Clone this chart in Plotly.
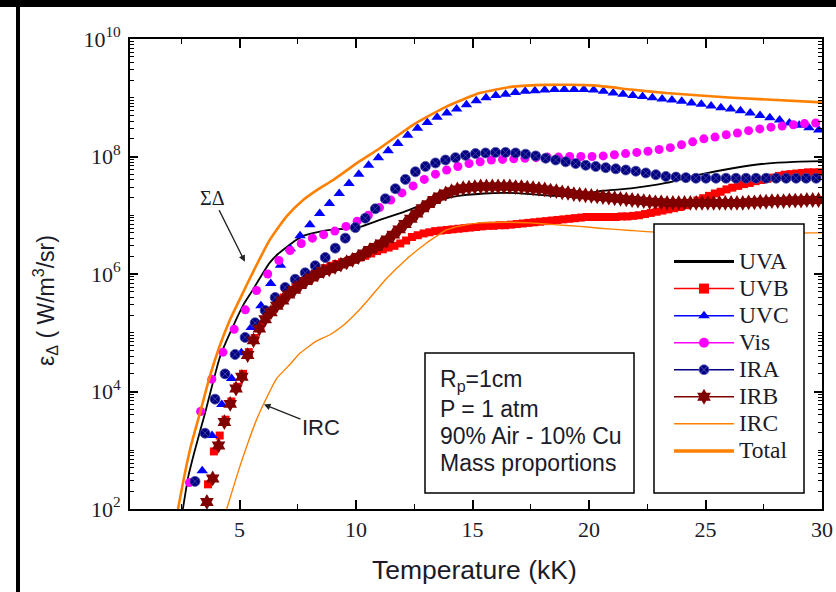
import plotly.graph_objects as go

# ---------------- data (y values given as log10 exponents) ----------------
# continuous curves
UVA_T = [2.57, 2.8, 3.05, 3.52, 4.17, 4.85, 5.2, 5.57, 5.95, 6.29, 6.65, 7.03, 7.4, 7.74, 8.3, 8.89,
         9.5, 10.15, 11.02, 12.0, 12.88, 14.25, 15.5, 16.5, 17.5, 18.5, 19.4, 20.45, 21.88, 23.31,
         24.74, 26.17, 27.6, 28.8, 30.0]
UVA_LOG10 = [2.0, 2.55, 2.95, 3.63, 4.6, 5.22, 5.5, 5.73, 5.98, 6.19, 6.34, 6.46, 6.57, 6.65, 6.71, 6.75,
             6.77, 6.8, 6.92, 7.05, 7.18, 7.32, 7.37, 7.38, 7.36, 7.33, 7.33, 7.41, 7.46, 7.55,
             7.69, 7.8, 7.88, 7.91, 7.92]

TOTAL_T = [2.36, 2.6, 2.9, 3.3, 3.7, 4.1, 4.59, 5.0, 5.6, 6.3, 7.02, 7.73, 8.4, 9.02, 10.16, 11.02, 12.45,
           13.88, 15.31, 16.74, 18.17, 20.17, 21.8, 23.31, 26.17, 29.6, 30.0]
TOTAL_LOG10 = [2.0, 2.5, 3.05, 3.63, 4.22, 4.72, 5.22, 5.56, 6.05, 6.58, 6.98, 7.26, 7.45, 7.6, 7.92, 8.14, 8.54,
               8.85, 9.08, 9.19, 9.22, 9.21, 9.14, 9.08, 9.0, 8.93, 8.92]

IRC_T = [4.45, 5.02, 5.73, 6.05, 6.59, 7.16, 7.59, 8.31, 8.9, 9.5, 10.0, 10.5, 11.3, 12.13, 13.0,
         13.88, 14.5, 15.31, 16.5, 17.45, 18.5, 19.6, 20.45, 21.8, 23.31, 25.0, 27.0, 29.6, 30.0]
IRC_LOG10 = [2.0, 2.73, 3.52, 3.8, 4.22, 4.46, 4.65, 4.86, 4.97, 5.14, 5.33, 5.55, 5.92, 6.24, 6.52,
             6.75, 6.82, 6.87, 6.88, 6.87, 6.84, 6.81, 6.78, 6.74, 6.70, 6.69, 6.69, 6.70, 6.70]

# sampled (marker) series: first temperature, temperature step, values
UVB_T0, UVB_DT = 3.65, 0.25
UVB_LOG10 = [2.42, 2.98, 3.25, 3.52, 3.83, 4.08, 4.3, 4.67, 4.91, 5.1,
             5.26, 5.38, 5.49, 5.6, 5.7, 5.78, 5.86, 5.93, 5.99, 6.05,
             6.1, 6.14, 6.17, 6.2, 6.22, 6.25, 6.28, 6.31, 6.35, 6.39,
             6.42, 6.45, 6.48, 6.52, 6.57, 6.63, 6.66, 6.69, 6.71, 6.73,
             6.74, 6.75, 6.76, 6.77, 6.78, 6.79, 6.8, 6.81, 6.82, 6.82,
             6.83, 6.83, 6.84, 6.85, 6.86, 6.87, 6.88, 6.89, 6.9, 6.91,
             6.92, 6.93, 6.94, 6.95, 6.96, 6.97, 6.97, 6.97, 6.97, 6.97,
             6.97, 6.98, 6.98, 6.99, 7.0, 7.02, 7.04, 7.06, 7.08, 7.1,
             7.12, 7.14, 7.17, 7.21, 7.25, 7.29, 7.33, 7.37, 7.4, 7.44,
             7.47, 7.5, 7.53, 7.55, 7.58, 7.6, 7.62, 7.64, 7.67, 7.69,
             7.7, 7.71, 7.72, 7.73, 7.73, 7.73]

UVC_T0, UVC_DT = 3.4, 0.42
UVC_LOG10 = [2.65, 3.25, 3.78, 4.22, 4.66, 5.09, 5.46, 5.84, 6.15, 6.43,
             6.65, 6.84, 7.03, 7.2, 7.37, 7.54, 7.7, 7.85, 7.98, 8.1,
             8.22, 8.36, 8.48, 8.58, 8.67, 8.74, 8.81, 8.88, 8.95, 9.0,
             9.04, 9.06, 9.09, 9.11, 9.12, 9.13, 9.14, 9.14, 9.14, 9.14,
             9.13, 9.11, 9.08, 9.06, 9.04, 9.02, 9.0, 8.98, 8.96, 8.94,
             8.91, 8.89, 8.86, 8.83, 8.81, 8.78, 8.74, 8.7, 8.66, 8.62,
             8.57, 8.53, 8.49, 8.45]

VIS_T0, VIS_DT = 2.85, 0.48
VIS_LOG10 = [2.45, 3.66, 4.21, 4.67, 5.06, 5.39, 5.72, 6.0, 6.23, 6.4,
             6.52, 6.61, 6.67, 6.73, 6.81, 6.9, 7.0, 7.13, 7.26, 7.38,
             7.5, 7.61, 7.7, 7.77, 7.83, 7.88, 7.91, 7.94, 7.95, 7.96,
             7.97, 7.98, 7.99, 7.99, 8.0, 8.0, 8.0, 8.01, 8.03, 8.05,
             8.07, 8.09, 8.12, 8.15, 8.2, 8.25, 8.3, 8.33, 8.37, 8.4,
             8.44, 8.47, 8.5, 8.52, 8.54, 8.56, 8.57]

IRA_T0, IRA_DT = 3.09, 0.43
IRA_LOG10 = [2.47, 3.29, 3.87, 4.3, 4.63, 4.92, 5.17, 5.38, 5.6, 5.77,
             5.91, 6.02, 6.14, 6.28, 6.44, 6.61, 6.79, 6.95, 7.11, 7.28,
             7.45, 7.61, 7.74, 7.83, 7.89, 7.94, 7.98, 8.02, 8.05, 8.06,
             8.07, 8.07, 8.06, 8.04, 8.01, 7.97, 7.94, 7.91, 7.88, 7.85,
             7.83, 7.81, 7.79, 7.77, 7.75, 7.72, 7.69, 7.66, 7.65, 7.64,
             7.63, 7.63, 7.63, 7.63, 7.63, 7.63, 7.63, 7.63, 7.63, 7.63,
             7.63, 7.63, 7.63]

IRB_T0, IRB_DT = 3.6, 0.25
IRB_LOG10 = [2.12, 2.52, 3.08, 3.48, 3.79, 4.05, 4.25, 4.62, 4.87, 5.07,
             5.23, 5.35, 5.46, 5.55, 5.65, 5.73, 5.81, 5.88, 5.94, 6.0,
             6.05, 6.08, 6.12, 6.16, 6.2, 6.24, 6.29, 6.35, 6.41, 6.46,
             6.52, 6.59, 6.67, 6.76, 6.85, 6.94, 7.03, 7.12, 7.19, 7.26,
             7.32, 7.37, 7.41, 7.44, 7.46, 7.47, 7.48, 7.49, 7.49, 7.49,
             7.49, 7.49, 7.49, 7.48, 7.48, 7.47, 7.46, 7.45, 7.44, 7.42,
             7.41, 7.39, 7.38, 7.36, 7.35, 7.34, 7.33, 7.32, 7.31, 7.3,
             7.29, 7.28, 7.27, 7.26, 7.25, 7.24, 7.23, 7.22, 7.22, 7.21,
             7.21, 7.21, 7.21, 7.21, 7.21, 7.21, 7.21, 7.21, 7.21, 7.21,
             7.21, 7.21, 7.21, 7.22, 7.22, 7.23, 7.23, 7.24, 7.24, 7.24,
             7.25, 7.25, 7.25, 7.26, 7.26, 7.26]

X_TICKS = [5, 10, 15, 20, 25, 30]
X_MINOR = [2.5, 7.5, 12.5, 17.5, 22.5, 27.5]
Y_EXP = [2, 4, 6, 8, 10]
Y_TICKTEXT = ["10<sup>%d</sup>" % e for e in Y_EXP]

LEGEND_NAMES = ["UVA", "UVB", "UVC", "Vis", "IRA", "IRB", "IRC", "Total"]
BOX_LINES = ["R<sub>p</sub>=1cm", "P = 1 atm", "90% Air - 10% Cu", "Mass proportions"]


def temps(t0, dt, vals):
    return [round(t0 + dt * i, 3) for i in range(len(vals))]


def lin(vals):
    return [10 ** v for v in vals]


# ---------------- styles ----------------
BLACK = "#000000"
RED = "#ff0000"
BLUE = "#0000ff"
MAGENTA = "#ff00ff"
NAVY = "#000080"
MAROON = "#800000"
ORANGE = "#ff8000"
SERIF = "Liberation Serif, Times New Roman, serif"
SANS = "Liberation Sans, Arial, sans-serif"
TXT = "#1b1b2a"

W, H = 836, 592
ML, MR, MT, MB = 130, 14, 39, 83
PW, PH = W - ML - MR, H - MT - MB


def px2x(px):
    return (px - ML) / PW


def py2y(py):
    return (H - MB - py) / PH


fig = go.Figure()

fig.add_trace(go.Scatter(x=UVA_T, y=lin(UVA_LOG10), mode="lines", line=dict(color=BLACK, width=1.8, shape="spline", smoothing=0.5), showlegend=False))
fig.add_trace(go.Scatter(x=temps(UVB_T0, UVB_DT, UVB_LOG10), y=lin(UVB_LOG10), mode="markers",
                         marker=dict(symbol="square", size=8, color=RED, line=dict(width=0)), showlegend=False))
fig.add_trace(go.Scatter(x=temps(UVC_T0, UVC_DT, UVC_LOG10), y=lin(UVC_LOG10), mode="markers",
                         marker=dict(symbol="triangle-up", size=10, color=BLUE, line=dict(width=0)), showlegend=False))
fig.add_trace(go.Scatter(x=temps(VIS_T0, VIS_DT, VIS_LOG10), y=lin(VIS_LOG10), mode="markers",
                         marker=dict(symbol="circle", size=9, color=MAGENTA, line=dict(width=0)), showlegend=False))
fig.add_trace(go.Scatter(x=temps(IRA_T0, IRA_DT, IRA_LOG10), y=lin(IRA_LOG10), mode="markers",
                         marker=dict(symbol="circle-x", size=10, color=NAVY, line=dict(width=0.8, color="#4a4aa8")), showlegend=False))
fig.add_trace(go.Scatter(x=temps(IRB_T0, IRB_DT, IRB_LOG10), y=lin(IRB_LOG10), mode="markers",
                         marker=dict(symbol="hexagram", size=12, color=MAROON, line=dict(width=0)), showlegend=False))
fig.add_trace(go.Scatter(x=IRC_T, y=lin(IRC_LOG10), mode="lines", line=dict(color=ORANGE, width=1.4, shape="spline", smoothing=0.4), showlegend=False))
fig.add_trace(go.Scatter(x=TOTAL_T, y=lin(TOTAL_LOG10), mode="lines", line=dict(color=ORANGE, width=2.6, shape="spline", smoothing=0.5), showlegend=False))

# legend entries
leg_styles = [
    dict(mode="lines", line=dict(color=BLACK, width=3)),
    dict(mode="lines+markers", line=dict(color=RED, width=1.5), marker=dict(symbol="square", size=10, color=RED)),
    dict(mode="lines+markers", line=dict(color=BLUE, width=1.5), marker=dict(symbol="triangle-up", size=10, color=BLUE)),
    dict(mode="lines+markers", line=dict(color=MAGENTA, width=1.5), marker=dict(symbol="circle", size=10, color=MAGENTA)),
    dict(mode="lines+markers", line=dict(color=NAVY, width=1.5), marker=dict(symbol="circle-x", size=10, color=NAVY, line=dict(width=0.8, color="#6a6ac8"))),
    dict(mode="lines+markers", line=dict(color=MAROON, width=1.5), marker=dict(symbol="hexagram", size=12, color=MAROON)),
    dict(mode="lines", line=dict(color=ORANGE, width=1.5)),
    dict(mode="lines", line=dict(color=ORANGE, width=3.5)),
]
for name, st in zip(LEGEND_NAMES, leg_styles):
    fig.add_trace(go.Scatter(x=[None], y=[None], name="<span style='font-size:23.5px'>%s</span>" % name,
                             showlegend=True, **st))

annotations = []
# text box content
box_y = [380, 409, 436, 463]
for txt, yy in zip(BOX_LINES, box_y):
    annotations.append(dict(xref="paper", yref="paper", x=px2x(438), y=py2y(yy), text=txt, showarrow=False,
                            xanchor="left", yanchor="middle", font=dict(family=SANS, size=23, color=TXT)))
# labels with arrows (x in kK, y as log10 on the log axis)
annotations.append(dict(x=5.23, y=6.21, xref="x", yref="y", text="ΣΔ", showarrow=True, ax=-32, ay=-64,
                        arrowhead=2, arrowsize=1, arrowwidth=1.3, arrowcolor="#222222",
                        font=dict(family=SERIF, size=20, color=TXT)))
annotations.append(dict(x=6.05, y=3.78, xref="x", yref="y", text="IRC", showarrow=True, ax=57, ay=23,
                        arrowhead=2, arrowsize=1, arrowwidth=1.3, arrowcolor="#222222",
                        font=dict(family=SANS, size=22, color=TXT)))
# axis titles
annotations.append(dict(xref="paper", yref="paper", x=px2x(474), y=py2y(570), text="Temperature (kK)", showarrow=False,
                        xanchor="center", yanchor="middle", font=dict(family=SANS, size=26.5, color=TXT)))
annotations.append(dict(xref="paper", yref="paper", x=px2x(45), y=py2y(301), text="ε<sub>Δ</sub> ( W/m<sup>3</sup>/sr)",
                        showarrow=False, textangle=-90, xanchor="center", yanchor="middle",
                        font=dict(family=SANS, size=23, color=TXT)))

shapes = [
    dict(type="rect", xref="paper", yref="paper", x0=px2x(425), x1=px2x(634), y0=py2y(493), y1=py2y(353),
         line=dict(color=BLACK, width=1.5), fillcolor="white", layer="above"),
    dict(type="rect", xref="paper", yref="paper", x0=px2x(654), x1=px2x(804), y0=py2y(493), y1=py2y(224),
         line=dict(color=BLACK, width=1.5), fillcolor="white", layer="above"),
    dict(type="rect", xref="paper", yref="paper", x0=px2x(0), x1=px2x(W), y0=py2y(7), y1=py2y(0),
         line=dict(width=0), fillcolor=BLACK, layer="above"),
    dict(type="rect", xref="paper", yref="paper", x0=px2x(16), x1=px2x(20), y0=py2y(H), y1=py2y(7),
         line=dict(width=0), fillcolor=BLACK, layer="above"),
]

fig.update_layout(
    width=W, height=H,
    margin=dict(l=ML, r=MR, t=MT, b=MB, pad=0, autoexpand=False),
    paper_bgcolor="white", plot_bgcolor="white",
    showlegend=True,
    legend=dict(x=px2x(669), y=py2y(243), xanchor="left", yanchor="top", bgcolor="rgba(0,0,0,0)",
                borderwidth=0, font=dict(family=SERIF, size=18.5, color=TXT), itemwidth=60,
                tracegroupgap=0),
    annotations=annotations,
    shapes=shapes,
    xaxis=dict(range=[0.3, 30], tickmode="array", tickvals=X_TICKS, ticks="inside", ticklen=9, tickwidth=1.5,
               tickcolor=BLACK, showline=True, linecolor=BLACK, linewidth=1.6, mirror="ticks", showgrid=False,
               zeroline=False, automargin=False, tickfont=dict(family=SERIF, size=22, color=TXT),
               minor=dict(tickmode="array", tickvals=X_MINOR, ticks="inside", ticklen=5, tickwidth=1.2,
                          tickcolor=BLACK, showgrid=False)),
    yaxis=dict(type="log", range=[2, 10], tickmode="array", tickvals=[10 ** e for e in Y_EXP], ticktext=Y_TICKTEXT,
               ticks="inside", ticklen=8, tickwidth=1.5, tickcolor=BLACK, showline=True, linecolor=BLACK,
               linewidth=1.6, mirror="ticks", showgrid=False, zeroline=False, ticklabelstandoff=3,
               automargin=False, tickfont=dict(family=SERIF, size=22, color=TXT),
               minor=dict(dtick="D1", ticks="inside", ticklen=4, tickwidth=1, tickcolor=BLACK, showgrid=False)),
)

fig.write_html("out.html", config={"displayModeBar": False},
               post_script="document.body.style.margin='0px';")
